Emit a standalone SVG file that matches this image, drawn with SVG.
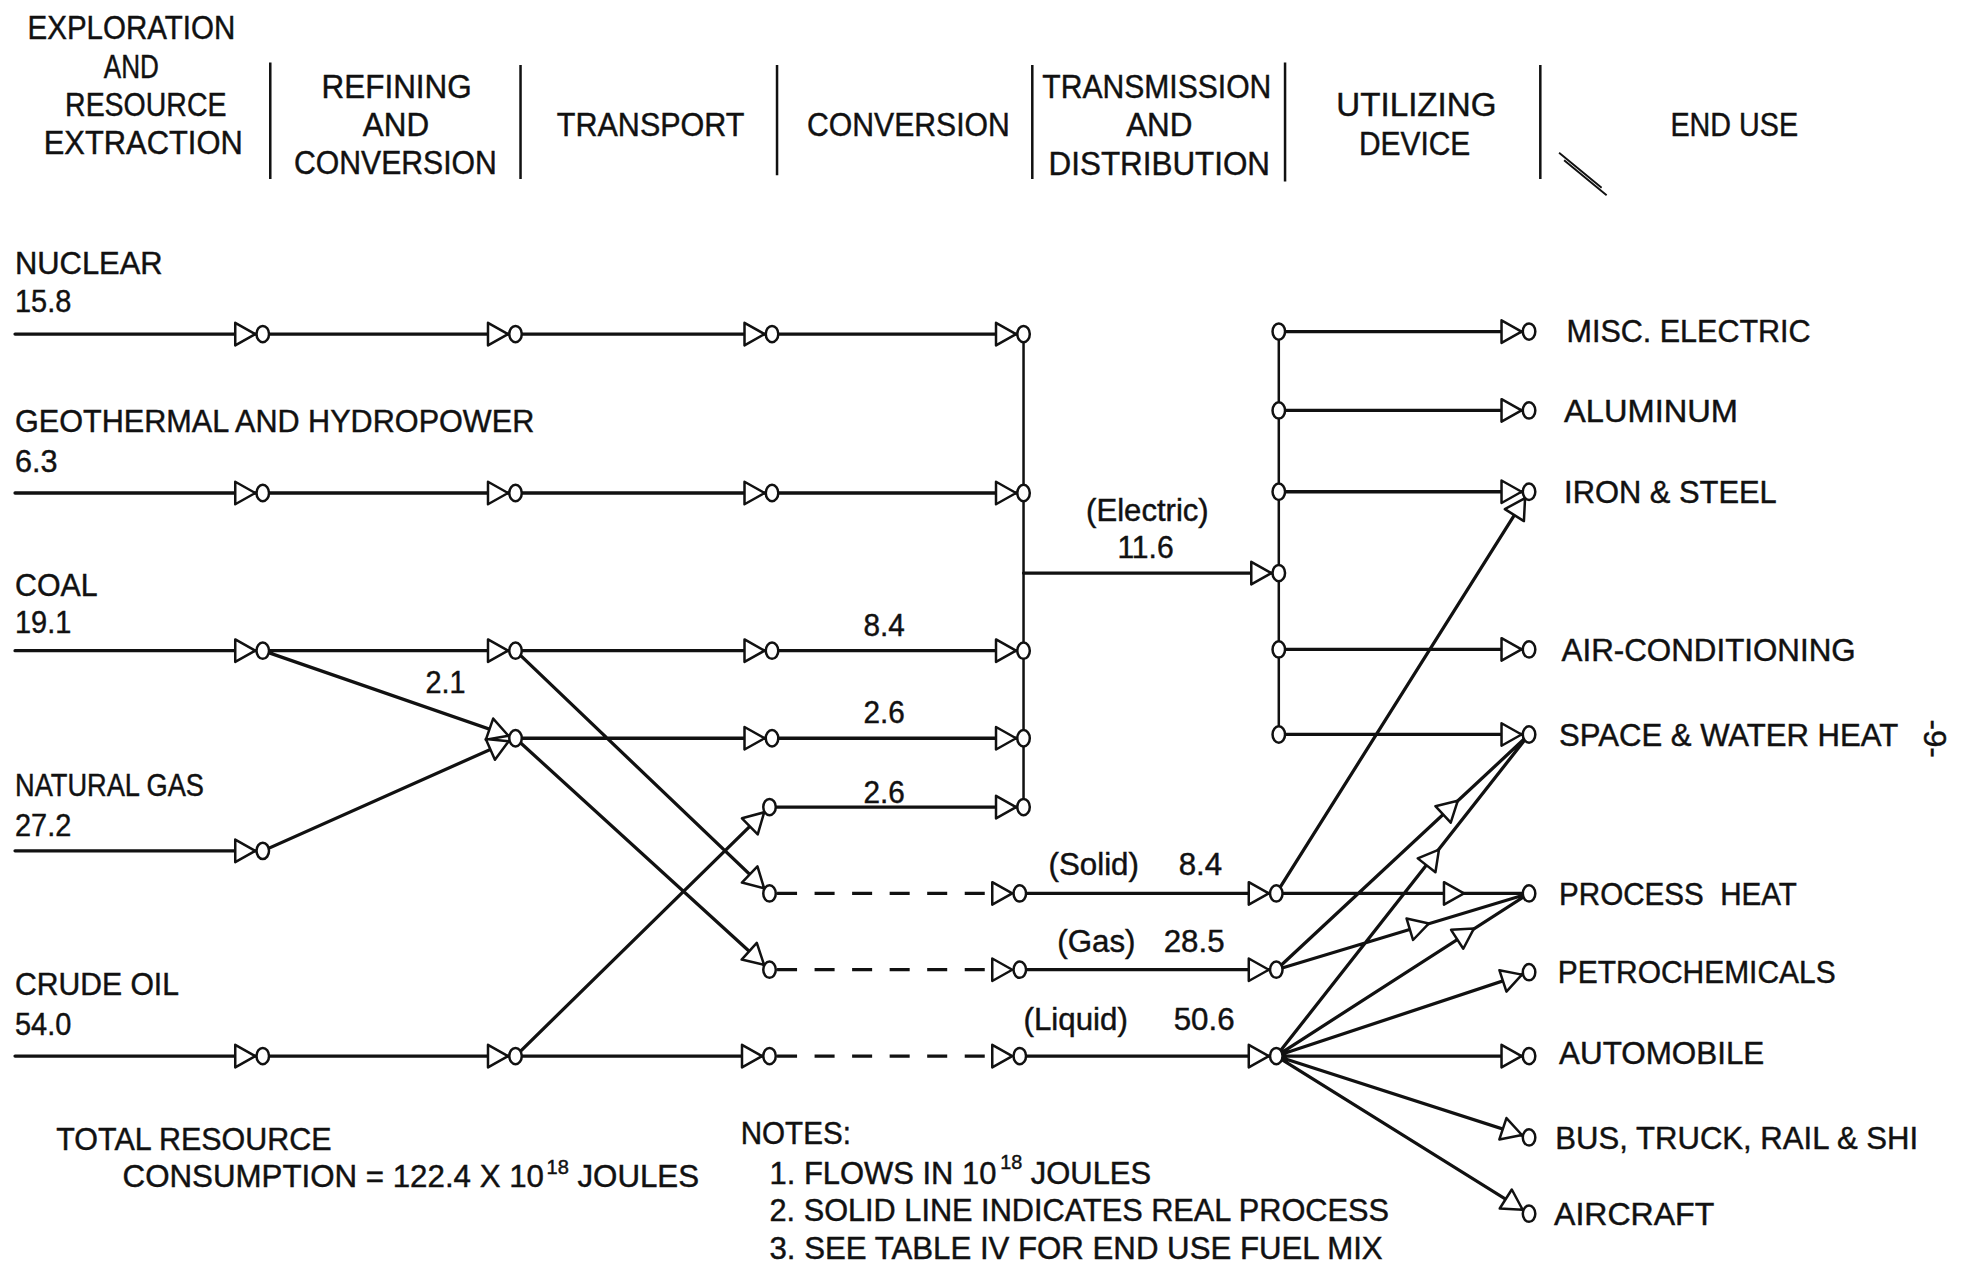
<svg xmlns="http://www.w3.org/2000/svg" xmlns:xlink="http://www.w3.org/1999/xlink" width="1962" height="1272" viewBox="0 0 1962 1272">
<style>
.ln{stroke:#111;stroke-width:2.6;fill:none;stroke-linecap:round}
.bus{stroke:#111;stroke-width:2;fill:none}
.dash{stroke-dasharray:16 14;stroke-linecap:butt}
.tri{fill:#fff;stroke:#111;stroke-width:2;stroke-linejoin:round}
.dot{fill:#fff;stroke:#111;stroke-width:2}
.sep{stroke:#111;stroke-width:2}
text{font-family:"Liberation Sans",Arial,sans-serif;fill:#111;font-size:25px;stroke:#111;stroke-width:0.35}
.hd{font-size:26px}
.sup{font-size:16px}
</style>
<defs>
<path id="tri" class="tri" d="M-16,-9 L0,0 L-16,9 Z"/>
<ellipse id="dot" class="dot" rx="5" ry="6.5"/>
</defs>
<rect width="1962" height="1272" fill="#fff"/>
<g transform="scale(1.25127)">
<g id="header">
<text class="hd" x="22" y="31" textLength="166" lengthAdjust="spacingAndGlyphs">EXPLORATION</text>
<text class="hd" x="83" y="62" textLength="44" lengthAdjust="spacingAndGlyphs">AND</text>
<text class="hd" x="52" y="93" textLength="129" lengthAdjust="spacingAndGlyphs">RESOURCE</text>
<text class="hd" x="35" y="123" textLength="159" lengthAdjust="spacingAndGlyphs">EXTRACTION</text>
<text class="hd" x="257" y="78" textLength="120" lengthAdjust="spacingAndGlyphs">REFINING</text>
<text class="hd" x="290" y="109" textLength="53" lengthAdjust="spacingAndGlyphs">AND</text>
<text class="hd" x="235" y="139" textLength="162" lengthAdjust="spacingAndGlyphs">CONVERSION</text>
<text class="hd" x="445" y="109" textLength="150" lengthAdjust="spacingAndGlyphs">TRANSPORT</text>
<text class="hd" x="645" y="109" textLength="162" lengthAdjust="spacingAndGlyphs">CONVERSION</text>
<text class="hd" x="833" y="78" textLength="183" lengthAdjust="spacingAndGlyphs">TRANSMISSION</text>
<text class="hd" x="900" y="109" textLength="53" lengthAdjust="spacingAndGlyphs">AND</text>
<text class="hd" x="838" y="140" textLength="177" lengthAdjust="spacingAndGlyphs">DISTRIBUTION</text>
<text class="hd" x="1068" y="93" textLength="128" lengthAdjust="spacingAndGlyphs">UTILIZING</text>
<text class="hd" x="1086" y="124" textLength="89" lengthAdjust="spacingAndGlyphs">DEVICE</text>
<text class="hd" x="1335" y="109" textLength="102" lengthAdjust="spacingAndGlyphs">END USE</text>
<path class="sep" d="M216,50 V143 M416,52 V143 M621,52 V140 M825,52 V143 M1027,50 V145 M1231,52 V143"/>
<path stroke="#111" stroke-width="1.5" fill="none" d="M1246,122 L1280,150 M1250,128 L1284,156"/>
</g>
<g id="connectors">
<path class="ln" d="M12,267 H818 M12,394 H818 M12,520 H818 M210,520 L412,590 M12,680 H210 L412,590 M412,590 H818 M615,645 H818 M12,844 H615 M412,844 L615,645 M412,520 L615,714 M412,590 L615,775"/>
<path class="ln dash" d="M621,714 H800 M621,775 H800 M621,844 H800"/>
<path class="ln" d="M815,714 H1020 M815,775 H1020 M815,844 H1020"/>
<path class="bus" d="M818,267 V645 M1022,265 V587"/>
<path class="ln" d="M818,458 H1022 M1022,265 H1222 M1022,328 H1222 M1022,393 H1222 M1022,519 H1222 M1022,587 H1222"/>
<path class="ln" d="M1020,714 L1222,393 M1020,714 H1222 M1020,775 L1222,587 M1020,775 L1222,714 M1020,844 L1222,587 M1020,844 L1222,714 M1020,844 L1222,777 M1020,844 H1222 M1020,844 L1222,909 M1020,844 L1222,970"/>
</g>
<g id="nuclear">
<text x="12" y="219" textLength="118" lengthAdjust="spacingAndGlyphs">NUCLEAR</text>
<text x="12" y="249" textLength="45" lengthAdjust="spacingAndGlyphs">15.8</text>
<use href="#tri" transform="translate(204,267)"/><use href="#dot" x="210" y="267"/>
<use href="#tri" transform="translate(406,267)"/><use href="#dot" x="412" y="267"/>
<use href="#tri" transform="translate(611,267)"/><use href="#dot" x="617" y="267"/>
<use href="#tri" transform="translate(812,267)"/><use href="#dot" x="818" y="267"/>
</g>
<g id="geothermal">
<text x="12" y="345" textLength="415" lengthAdjust="spacingAndGlyphs">GEOTHERMAL AND HYDROPOWER</text>
<text x="12" y="377" textLength="34" lengthAdjust="spacingAndGlyphs">6.3</text>
<use href="#tri" transform="translate(204,394)"/><use href="#dot" x="210" y="394"/>
<use href="#tri" transform="translate(406,394)"/><use href="#dot" x="412" y="394"/>
<use href="#tri" transform="translate(611,394)"/><use href="#dot" x="617" y="394"/>
<use href="#tri" transform="translate(812,394)"/><use href="#dot" x="818" y="394"/>
</g>
<g id="coal">
<text x="12" y="476" textLength="66" lengthAdjust="spacingAndGlyphs">COAL</text>
<text x="12" y="506" textLength="45" lengthAdjust="spacingAndGlyphs">19.1</text>
<use href="#tri" transform="translate(204,520)"/><use href="#dot" x="210" y="520"/>
<use href="#tri" transform="translate(406,520)"/><use href="#dot" x="412" y="520"/>
<use href="#tri" transform="translate(611,520)"/><use href="#dot" x="617" y="520"/>
<use href="#tri" transform="translate(812,520)"/><use href="#dot" x="818" y="520"/>
<text x="690" y="508" textLength="33" lengthAdjust="spacingAndGlyphs">8.4</text>
<text x="340" y="554" textLength="32" lengthAdjust="spacingAndGlyphs">2.1</text>
</g>
<g id="mixed-row">
<use href="#tri" transform="translate(406.3,588) rotate(19.1)"/>
<use href="#tri" transform="translate(406.5,592.4) rotate(-24)"/>
<use href="#dot" x="412" y="590"/>
<use href="#tri" transform="translate(611,590)"/><use href="#dot" x="617" y="590"/>
<use href="#tri" transform="translate(812,590)"/><use href="#dot" x="818" y="590"/>
<text x="690" y="578" textLength="33" lengthAdjust="spacingAndGlyphs">2.6</text>
</g>
<g id="oil-electric-row">
<use href="#tri" transform="translate(610.7,649.2) rotate(-44.4)"/><use href="#dot" x="615" y="645"/>
<use href="#tri" transform="translate(812,645)"/><use href="#dot" x="818" y="645"/>
<text x="690" y="642" textLength="33" lengthAdjust="spacingAndGlyphs">2.6</text>
</g>
<g id="natural-gas">
<text x="12" y="636" textLength="151" lengthAdjust="spacingAndGlyphs">NATURAL GAS</text>
<text x="12" y="668" textLength="45" lengthAdjust="spacingAndGlyphs">27.2</text>
<use href="#tri" transform="translate(204,680)"/><use href="#dot" x="210" y="680"/>
</g>
<g id="crude-oil">
<text x="12" y="795" textLength="131" lengthAdjust="spacingAndGlyphs">CRUDE OIL</text>
<text x="12" y="827" textLength="45" lengthAdjust="spacingAndGlyphs">54.0</text>
<use href="#tri" transform="translate(204,844)"/><use href="#dot" x="210" y="844"/>
<use href="#tri" transform="translate(406,844)"/><use href="#dot" x="412" y="844"/>
<use href="#tri" transform="translate(609,844)"/><use href="#dot" x="615" y="844"/>
<use href="#tri" transform="translate(809,844)"/><use href="#dot" x="815" y="844"/>
</g>
<g id="solid">
<use href="#tri" transform="translate(610.7,709.9) rotate(43.7)"/><use href="#dot" x="615" y="714"/>
<use href="#tri" transform="translate(809,714)"/><use href="#dot" x="815" y="714"/>
<use href="#tri" transform="translate(1014,714)"/><use href="#dot" x="1020" y="714"/>
<text y="699"><tspan x="838">(Solid)</tspan><tspan x="942">8.4</tspan></text>
</g>
<g id="gas">
<use href="#tri" transform="translate(610.6,771) rotate(42.3)"/><use href="#dot" x="615" y="775"/>
<use href="#tri" transform="translate(809,775)"/><use href="#dot" x="815" y="775"/>
<use href="#tri" transform="translate(1014,775)"/><use href="#dot" x="1020" y="775"/>
<text y="761"><tspan x="845">(Gas)</tspan><tspan x="930">28.5</tspan></text>
</g>
<g id="liquid">
<use href="#tri" transform="translate(1014,844)"/><use href="#dot" x="1020" y="844"/>
<text y="823"><tspan x="818">(Liquid)</tspan><tspan x="938">50.6</tspan></text>
</g>
<g id="electric">
<use href="#tri" transform="translate(1016,458)"/><use href="#dot" x="1022" y="458"/>
<text x="868" y="416" textLength="98" lengthAdjust="spacingAndGlyphs">(Electric)</text>
<text x="893" y="446" textLength="45" lengthAdjust="spacingAndGlyphs">11.6</text>
<use href="#dot" x="1022" y="265"/><use href="#dot" x="1022" y="328"/><use href="#dot" x="1022" y="393"/><use href="#dot" x="1022" y="519"/><use href="#dot" x="1022" y="587"/>
</g>
<g id="mid-arrows">
<use href="#tri" transform="translate(1170,714)"/>
<use href="#tri" transform="translate(1165,640) rotate(-42.9)"/>
<use href="#tri" transform="translate(1142,738) rotate(-16.8)"/>
<use href="#tri" transform="translate(1150,679) rotate(-51.8)"/>
<use href="#tri" transform="translate(1178,742) rotate(-32.8)"/>
</g>
<g id="misc-electric"><use href="#tri" transform="translate(1216,265)"/><use href="#dot" x="1222" y="265"/><text x="1252" y="273" textLength="195" lengthAdjust="spacingAndGlyphs">MISC. ELECTRIC</text></g>
<g id="aluminum"><use href="#tri" transform="translate(1216,328)"/><use href="#dot" x="1222" y="328"/><text x="1250" y="337" textLength="139" lengthAdjust="spacingAndGlyphs">ALUMINUM</text></g>
<g id="iron-steel"><use href="#tri" transform="translate(1216,393)"/><use href="#tri" transform="translate(1218.8,398.1) rotate(-57.8)"/><use href="#dot" x="1222" y="393"/><text x="1250" y="402" textLength="170" lengthAdjust="spacingAndGlyphs">IRON &amp; STEEL</text></g>
<g id="air-conditioning"><use href="#tri" transform="translate(1216,519)"/><use href="#dot" x="1222" y="519"/><text x="1248" y="528" textLength="235" lengthAdjust="spacingAndGlyphs">AIR-CONDITIONING</text></g>
<g id="space-water-heat"><use href="#tri" transform="translate(1216,587)"/><use href="#dot" x="1222" y="587"/><text x="1246" y="596" textLength="271" lengthAdjust="spacingAndGlyphs">SPACE &amp; WATER HEAT</text></g>
<g id="process-heat"><use href="#dot" x="1222" y="714"/><text x="1246" y="723" textLength="190" lengthAdjust="spacingAndGlyphs" xml:space="preserve">PROCESS  HEAT</text></g>
<g id="petrochemicals"><use href="#tri" transform="translate(1216.3,778.9) rotate(-18.3)"/><use href="#dot" x="1222" y="777"/><text x="1245" y="786" textLength="222" lengthAdjust="spacingAndGlyphs">PETROCHEMICALS</text></g>
<g id="automobile"><use href="#tri" transform="translate(1216,844)"/><use href="#dot" x="1222" y="844"/><text x="1246" y="850" textLength="164" lengthAdjust="spacingAndGlyphs">AUTOMOBILE</text></g>
<g id="bus-truck"><use href="#tri" transform="translate(1216.3,907.1) rotate(18.3)"/><use href="#dot" x="1222" y="909"/><text x="1243" y="918" textLength="290" lengthAdjust="spacingAndGlyphs">BUS, TRUCK, RAIL &amp; SHI</text></g>
<g id="aircraft"><use href="#tri" transform="translate(1216.9,966.8) rotate(32.4)"/><use href="#dot" x="1222" y="970"/><text x="1242" y="979" textLength="128" lengthAdjust="spacingAndGlyphs">AIRCRAFT</text></g>
<g id="totals">
<text x="45" y="919" textLength="220" lengthAdjust="spacingAndGlyphs">TOTAL RESOURCE</text>
<text x="98" y="949" font-size="23.5">CONSUMPTION = 122.4 X 10<tspan class="sup" dx="2" dy="-11">18</tspan><tspan dy="11"> JOULES</tspan></text>
</g>
<g id="notes">
<text x="592" y="914" textLength="88" lengthAdjust="spacingAndGlyphs">NOTES:</text>
<text x="615" y="946" textLength="305" lengthAdjust="spacingAndGlyphs">1. FLOWS IN 10<tspan class="sup" dx="3" dy="-12">18</tspan><tspan dy="12"> JOULES</tspan></text>
<text x="615" y="976" textLength="495" lengthAdjust="spacingAndGlyphs">2. SOLID LINE INDICATES REAL PROCESS</text>
<text x="615" y="1006" textLength="490" lengthAdjust="spacingAndGlyphs">3. SEE TABLE IV FOR END USE FUEL MIX</text>
</g>
<g id="page-number">
<text x="0" y="0" font-size="22" transform="translate(1538,575) rotate(90)">-9-</text>
</g>
</g>
</svg>
